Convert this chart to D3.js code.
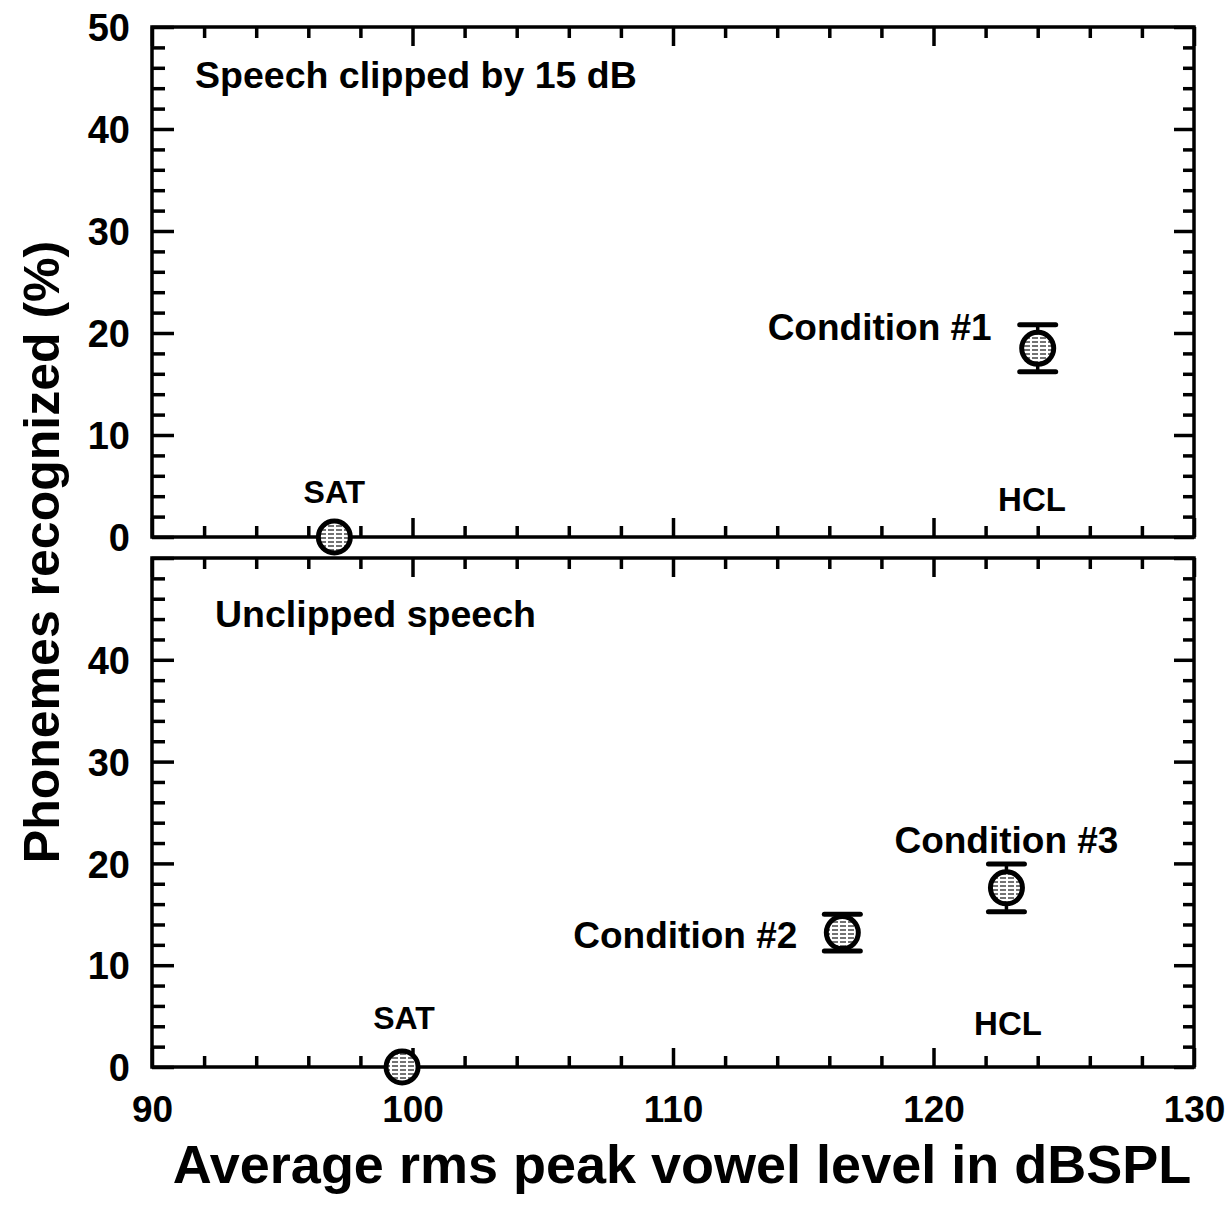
<!DOCTYPE html>
<html><head><meta charset="utf-8">
<script src="https://cdn.jsdelivr.net/npm/d3@7"></script>
<style>
body{margin:0;background:#fff;}
svg text{font-family:"Liberation Sans",Arial,Helvetica,sans-serif;font-weight:bold;fill:#000;}
</style>
</head><body>
<svg id="chart" width="1229" height="1208"></svg>
<script>
// ---- data ----
const xTickValues = [90, 100, 110, 120, 130];
const xMinorTickValues = [92, 94, 96, 98, 102, 104, 106, 108, 112, 114, 116, 118, 122, 124, 126, 128];
const yTickValues = [0, 10, 20, 30, 40, 50];
const yMinorTickValues = [2, 4, 6, 8, 12, 14, 16, 18, 22, 24, 26, 28, 32, 34, 36, 38, 42, 44, 46, 48];
const yTopTickLabels = [0, 10, 20, 30, 40, 50];
const yBottomTickLabels = [0, 10, 20, 30, 40];

const topConditions = ["SAT", "Condition #1"];
const topLevels = [97.0, 124.0];
const topScores = [0, 18.5];
const topErrors = [0, 2.3];

const bottomConditions = ["SAT", "Condition #2", "Condition #3"];
const bottomLevels = [99.6, 116.5, 122.8];
const bottomScores = [0, 13.2, 17.6];
const bottomErrors = [0, 1.8, 2.35];

const topTitle = "Speech clipped by 15 dB";
const bottomTitle = "Unclipped speech";
const xTitle = "Average rms peak vowel level in dBSPL";
const yTitle = "Phonemes recognized (%)";

// ---- layout ----
const svg = d3.select("#chart");
const X0 = 152, X1 = 1194;
const x = d3.scaleLinear().domain([90, 130]).range([X0, X1]);
const yTop = d3.scaleLinear().domain([0, 50]).range([537, 27]);
const yBot = d3.scaleLinear().domain([0, 50]).range([1067, 558]);
const SW = 3.5;

const defs = svg.append("defs");
const pat = defs.append("pattern").attr("id", "hatch").attr("patternUnits", "userSpaceOnUse")
  .attr("width", 8).attr("height", 4);
pat.append("rect").attr("width", 8).attr("height", 4).attr("fill", "#fff");
pat.append("line").attr("x1", 0).attr("y1", 2).attr("x2", 6).attr("y2", 2)
  .attr("stroke", "#444").attr("stroke-width", 1.5);

function styleAxis(g) {
  g.select(".domain").remove();
  g.selectAll(".tick line").attr("stroke", "#000").attr("stroke-width", SW);
}

function drawPanel(y, tickLabels, levels, scores, errors) {
  const g = svg.append("g");
  g.append("rect").attr("x", X0).attr("y", y(50)).attr("width", X1 - X0).attr("height", y(0) - y(50))
    .attr("fill", "none").attr("stroke", "#000").attr("stroke-width", SW);
  g.append("g").attr("transform", `translate(${X0},0)`)
    .call(d3.axisRight(y).tickValues(yTickValues).tickSize(22).tickFormat("")).call(styleAxis);
  g.append("g").attr("transform", `translate(${X0},0)`)
    .call(d3.axisRight(y).tickValues(yMinorTickValues).tickSize(13).tickFormat("")).call(styleAxis);
  g.append("g").attr("transform", `translate(${X1},0)`)
    .call(d3.axisLeft(y).tickValues(yTickValues).tickSize(20).tickFormat("")).call(styleAxis);
  g.append("g").attr("transform", `translate(${X1},0)`)
    .call(d3.axisLeft(y).tickValues(yMinorTickValues).tickSize(11).tickFormat("")).call(styleAxis);
  g.append("g").attr("transform", `translate(0,${y(50)})`)
    .call(d3.axisBottom(x).tickValues(xTickValues).tickSize(19).tickFormat("")).call(styleAxis);
  g.append("g").attr("transform", `translate(0,${y(50)})`)
    .call(d3.axisBottom(x).tickValues(xMinorTickValues).tickSize(11).tickFormat("")).call(styleAxis);
  g.append("g").attr("transform", `translate(0,${y(0)})`)
    .call(d3.axisTop(x).tickValues(xTickValues).tickSize(19).tickFormat("")).call(styleAxis);
  g.append("g").attr("transform", `translate(0,${y(0)})`)
    .call(d3.axisTop(x).tickValues(xMinorTickValues).tickSize(11).tickFormat("")).call(styleAxis);
  const yl = g.append("g").attr("transform", `translate(${X0},0)`)
    .call(d3.axisLeft(y).tickValues(tickLabels).tickSize(0).tickPadding(22).tickFormat(d3.format("d")));
  yl.select(".domain").remove();
  yl.attr("font-size", null).attr("font-family", null);
  yl.selectAll("text").style("font-size", "38px").attr("dy", "0.36em");

  const pts = levels.map((lv, i) => ({lv, s: scores[i], e: errors[i]}));
  const m = g.append("g");
  pts.forEach(p => {
    const cx = x(p.lv), cy = y(p.s);
    if (p.e > 0) {
      m.append("line").attr("x1", cx).attr("x2", cx).attr("y1", y(p.s - p.e)).attr("y2", y(p.s + p.e))
        .attr("stroke", "#000").attr("stroke-width", SW);
      [p.s - p.e, p.s + p.e].forEach(v => {
        m.append("line").attr("x1", cx - 18).attr("x2", cx + 18).attr("y1", y(v)).attr("y2", y(v))
          .attr("stroke", "#000").attr("stroke-width", 5).attr("stroke-linecap", "round");
      });
    }
    m.append("circle").attr("cx", cx).attr("cy", cy).attr("r", 16)
      .attr("fill", "url(#hatch)").attr("stroke", "#000").attr("stroke-width", 5);
  });
  return g;
}

drawPanel(yTop, yTopTickLabels, topLevels, topScores, topErrors);
drawPanel(yBot, yBottomTickLabels, bottomLevels, bottomScores, bottomErrors);

const xl = svg.append("g").attr("transform", `translate(0,${yBot(0)})`)
  .call(d3.axisBottom(x).tickValues(xTickValues).tickSize(0).tickPadding(29).tickFormat(d3.format("d")));
xl.select(".domain").remove();
xl.attr("font-size", null).attr("font-family", null);
xl.selectAll("text").style("font-size", "37px");

svg.append("text").attr("x", 195).attr("y", 88).style("font-size", "37.5px").text(topTitle);
svg.append("text").attr("x", 215).attr("y", 627).style("font-size", "37.5px").text(bottomTitle);

svg.append("text").attr("x", x(topLevels[1]) - 46).attr("y", 340).attr("text-anchor", "end")
  .style("font-size", "37px").text(topConditions[1]);
svg.append("text").attr("x", x(bottomLevels[1]) - 45).attr("y", 948).attr("text-anchor", "end")
  .style("font-size", "37px").text(bottomConditions[1]);
svg.append("text").attr("x", x(bottomLevels[2])).attr("y", 853).attr("text-anchor", "middle")
  .style("font-size", "37px").text(bottomConditions[2]);

svg.append("text").attr("x", x(topLevels[0])).attr("y", 503).attr("text-anchor", "middle").style("font-size", "32px").text(topConditions[0]);
svg.append("text").attr("x", x(bottomLevels[0]) + 2).attr("y", 1029).attr("text-anchor", "middle").style("font-size", "32px").text(bottomConditions[0]);
svg.append("text").attr("x", 1032).attr("y", 511).attr("text-anchor", "middle").style("font-size", "33px").text("HCL");
svg.append("text").attr("x", 1008).attr("y", 1035).attr("text-anchor", "middle").style("font-size", "33px").text("HCL");

svg.append("text").attr("x", 682).attr("y", 1183).attr("text-anchor", "middle").style("font-size", "54px").text(xTitle);
svg.append("text").attr("transform", "translate(59,552) rotate(-90)").attr("text-anchor", "middle")
  .style("font-size", "50px").text(yTitle);
</script>
</body></html>
